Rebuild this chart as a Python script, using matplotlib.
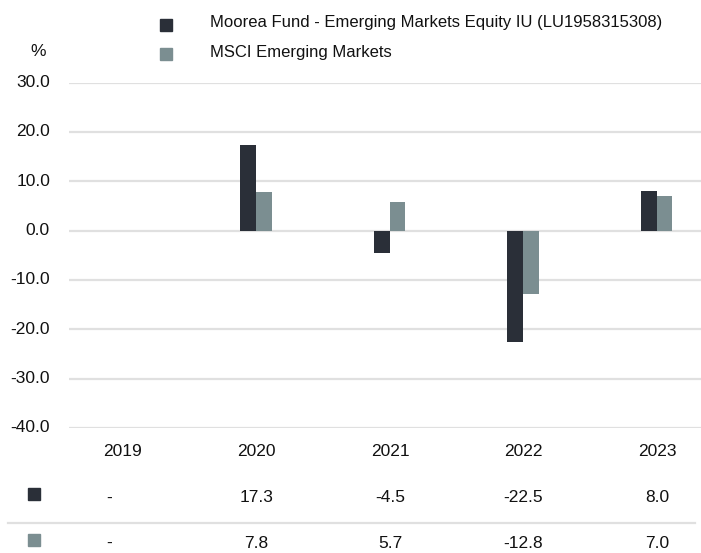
import matplotlib
matplotlib.use('Agg')
import matplotlib.pyplot as plt
from matplotlib.lines import Line2D
from matplotlib.patches import Rectangle
import numpy as np

years = ['2019', '2020', '2021', '2022', '2023']
fund = [np.nan, 17.3, -4.5, -22.5, 8.0]
msci = [np.nan, 7.8, 5.7, -12.8, 7.0]
fund_name = 'Moorea Fund - Emerging Markets Equity IU (LU1958315308)'
msci_name = 'MSCI Emerging Markets'
yticks = [30, 20, 10, 0, -10, -20, -30, -40]

dark = '#2a2f38'
grey = '#7b8e91'
grid_c = '#e0e0e0'

W, H = 701, 553
fig = plt.figure(figsize=(W / 100, H / 100), dpi=100)

def fx(px):
	return px / W

def fy(py):
	return 1 - py / H

ax = fig.add_axes([fx(69), fy(428), fx(701) - fx(69), fy(82.5) - fy(428)])
x = np.arange(len(years))
bw = 0.12
ax.bar(x - bw / 2, fund, width=bw, color=dark)
ax.bar(x + bw / 2 - 0.003, msci, width=bw - 0.006, color=grey)

ax.set_xlim(-0.404, 4.33)
ax.set_ylim(-40, 30)
for v in yticks:
	ax.axhline(v, color=grid_c, lw=1.6, zorder=0)
ax.set_yticks([])
ax.set_xticks([])
for s in ax.spines.values():
	s.set_visible(False)

num_font = dict(family=['Liberation Sans', 'DejaVu Sans'], fontsize=12.5, color='#111111')
for v in yticks:
	fig.text(fx(50), fy(428 + (v + 40) * -(428 - 82.5) / 70), '%.1f' % v,
		ha='right', va='center', **num_font)
fig.text(fx(38), fy(51), '%', ha='center', va='center', **num_font)

# legend
leg_font = dict(family=['Liberation Sans Narrow', 'Liberation Sans', 'DejaVu Sans'],
	fontsize=12, color='#111111')
for py, c, name in [(25, dark, fund_name), (54, grey, msci_name)]:
	fig.patches.append(Rectangle((fx(160), fy(py + 6)), fx(12), fy(0) - fy(12),
		transform=fig.transFigure, color=c))
	fig.text(fx(210), fy(py - 2), name, ha='left', va='center', **leg_font)

# table under chart
trans = matplotlib.transforms.blended_transform_factory(ax.transData, fig.transFigure)
def fmt(v):
	return '-' if np.isnan(v) else '%.1f' % v

for i, yr in enumerate(years):
	ax.text(i, fy(452), yr, transform=trans, ha='center', va='center', clip_on=False, **num_font)
	# dashes for missing values sit a little left of the column centre
	dx = -0.1 if np.isnan(fund[i]) else 0
	ax.text(i + dx, fy(498), fmt(fund[i]), transform=trans, ha='center', va='center', clip_on=False, **num_font)
	dx = -0.1 if np.isnan(msci[i]) else 0
	ax.text(i + dx, fy(543), fmt(msci[i]), transform=trans, ha='center', va='center', clip_on=False, **num_font)

for py, c in [(494, dark), (540, grey)]:
	fig.patches.append(Rectangle((fx(28), fy(py + 6)), fx(12), fy(0) - fy(12),
		transform=fig.transFigure, color=c))
fig.lines.append(Line2D([fx(8), fx(695)], [fy(523), fy(523)], transform=fig.transFigure,
	color=grid_c, lw=1.6))

fig.savefig('out.png', dpi=100)
